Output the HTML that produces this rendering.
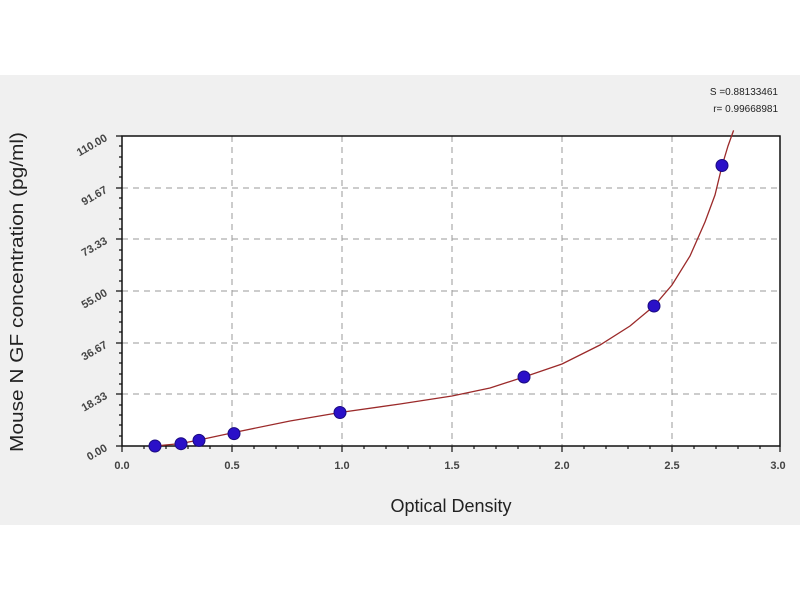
<!DOCTYPE html>
<html><head><meta charset="utf-8"><style>body{margin:0;background:#fff}svg{display:block}</style></head><body>
<svg width="800" height="600" xmlns="http://www.w3.org/2000/svg" font-family="Liberation Sans, sans-serif">
<rect x="0" y="0" width="800" height="600" fill="#fff"/>
<rect x="0" y="75" width="800" height="450" fill="#f0f0f0"/>
<rect x="122" y="136" width="658" height="310" fill="#fff"/>
<g stroke="#999" stroke-dasharray="6,5" stroke-width="1">
<line x1="232" y1="136" x2="232" y2="446"/><line x1="342" y1="136" x2="342" y2="446"/>
<line x1="452" y1="136" x2="452" y2="446"/><line x1="562" y1="136" x2="562" y2="446"/>
<line x1="672" y1="136" x2="672" y2="446"/>
<line x1="122" y1="188" x2="780" y2="188"/><line x1="122" y1="239" x2="780" y2="239"/>
<line x1="122" y1="291" x2="780" y2="291"/><line x1="122" y1="343" x2="780" y2="343"/>
<line x1="122" y1="394" x2="780" y2="394"/>
</g>
<rect x="122" y="136" width="658" height="310" fill="none" stroke="#111" stroke-width="1.5"/>
<g stroke="#111" stroke-width="1.2">
<path d="M122 446v6M232 446v6M342 446v6M452 446v6M562 446v6M672 446v6M780 446v6"/>
<path d="M144 446v3M166 446v3M188 446v3M210 446v3M254 446v3M276 446v3M298 446v3M320 446v3M364 446v3M386 446v3M408 446v3M430 446v3M474 446v3M496 446v3M518 446v3M540 446v3M584 446v3M606 446v3M628 446v3M650 446v3M694 446v3M716 446v3M738 446v3M760 446v3"/>
<path d="M116 136h6M116 188h6M116 239h6M116 291h6M116 343h6M116 394h6M116 446h6"/>
<path d="M119 146h3M119 157h3M119 167h3M119 177h3M119 198h3M119 208h3M119 219h3M119 229h3M119 250h3M119 260h3M119 270h3M119 281h3M119 301h3M119 312h3M119 322h3M119 332h3M119 353h3M119 363h3M119 374h3M119 384h3M119 405h3M119 415h3M119 425h3M119 436h3"/>
</g>
<polyline fill="none" stroke="#9b2a2a" stroke-width="1.3" points="155,446 181,443.5 199,440 234,432.5 290,421 340,412.5 400,404 452,396 490,388 524,377 562,364 600,345 630,326 654,306 672,285 690,256 705,222 715,195 722,166 728,146 733.6,130.4"/>
<g fill="#2a10c8" stroke="#1a0a80" stroke-width="1">
<circle cx="155" cy="446" r="6"/><circle cx="181" cy="443.7" r="6"/><circle cx="199" cy="440.4" r="6"/>
<circle cx="234" cy="433.6" r="6"/><circle cx="340" cy="412.5" r="6"/><circle cx="524" cy="377" r="6"/>
<circle cx="654" cy="306" r="6"/><circle cx="722" cy="165.5" r="6"/>
</g>
<g font-size="11" font-weight="bold" fill="#444" text-anchor="middle">
<text x="122" y="469">0.0</text><text x="232" y="469">0.5</text><text x="342" y="469">1.0</text>
<text x="452" y="469">1.5</text><text x="562" y="469">2.0</text><text x="672" y="469">2.5</text><text x="778" y="469">3.0</text>
</g>
<g font-size="11" font-weight="bold" fill="#444" text-anchor="end">
<text transform="translate(108,450) rotate(-30)">0.00</text>
<text transform="translate(108,398) rotate(-30)">18.33</text>
<text transform="translate(108,347) rotate(-30)">36.67</text>
<text transform="translate(108,295) rotate(-30)">55.00</text>
<text transform="translate(108,243) rotate(-30)">73.33</text>
<text transform="translate(108,192) rotate(-30)">91.67</text>
<text transform="translate(108,140) rotate(-30)">110.00</text>
</g>
<text x="451" y="512" font-size="18" text-anchor="middle" fill="#222">Optical Density</text>
<text transform="translate(23,292) rotate(-90)" font-size="18" text-anchor="middle" fill="#222" textLength="320" lengthAdjust="spacingAndGlyphs">Mouse N GF concentration (pg/ml)</text>
<text x="778" y="95" font-size="10" text-anchor="end" fill="#222">S =0.88133461</text>
<text x="778" y="112" font-size="10" text-anchor="end" fill="#222">r= 0.99668981</text>
</svg>
</body></html>
